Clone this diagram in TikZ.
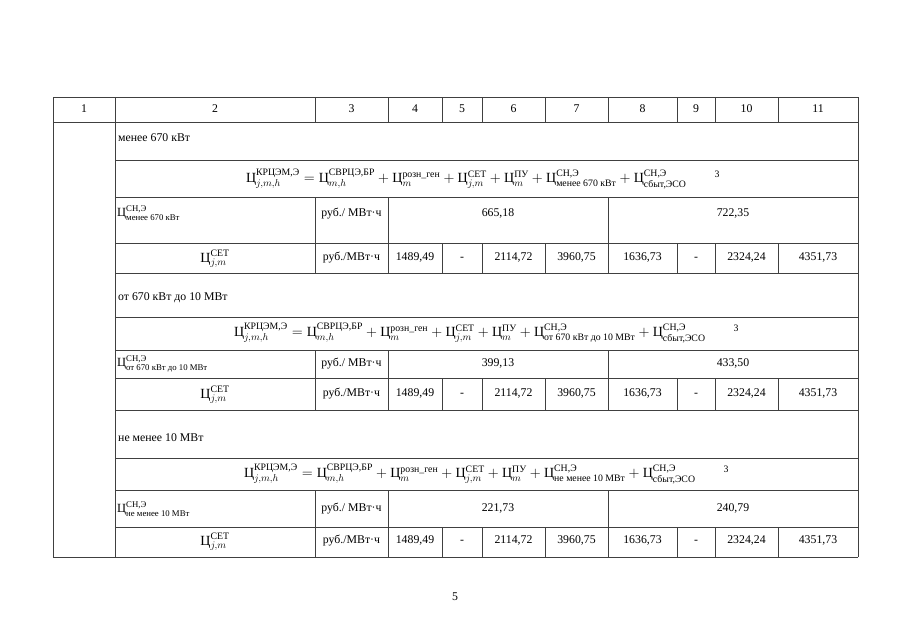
\documentclass[tikz,border=0pt]{standalone}
\usepackage{amsmath}
\usepackage{fontspec}
\setmainfont{Liberation Serif}
\newcommand{\Tc}{\text{Ц}}
\newcommand{\Tx}[1]{\text{#1}}
\tikzset{
  grid/.style={draw=black!75, line width=0.7pt},
  txt/.style={inner sep=0pt, text height=8pt, text depth=2.5pt, font=\fontsize{11.8}{14}\selectfont},
  frm/.style={inner sep=0pt, font=\fontsize{14}{16}\selectfont},
  cellf/.style={inner sep=0pt, font=\fontsize{12.5}{14}\selectfont, anchor=west},
}
\begin{document}
\begin{tikzpicture}[x=1pt,y=-1pt]
\useasboundingbox[fill=white] (0,0) rectangle (905,640);
% ---- grid ----
\draw[grid] (53,97) -- (858,97);
\draw[grid] (53,122) -- (858,122);
\draw[grid] (53,557) -- (858,557);
\draw[grid] (53,97) -- (53,557);
\draw[grid] (115,97) -- (115,557);
\draw[grid] (858,97) -- (858,557);
\foreach \x in {315,388,442,482,545,608,677,715,778}
  \draw[grid] (\x,97) -- (\x,122);
\foreach \y in {160,197,243,273,317,350,378,410,458,490,527}
  \draw[grid] (115,\y) -- (858,\y);
\foreach \a/\b in {197/243,350/378,490/527}{
  \draw[grid] (315,\a) -- (315,\b);
  \draw[grid] (388,\a) -- (388,\b);
  \draw[grid] (608,\a) -- (608,\b);
}
\foreach \a/\b in {243/273,378/410,527/557}
  \foreach \x in {315,388,442,482,545,608,677,715,778}
    \draw[grid] (\x,\a) -- (\x,\b);
% ---- header ----
\node[txt] (h1) at (84,110) {1};
\node[txt] (h2) at (215,110) {2};
\node[txt] (h3) at (351.5,110) {3};
\node[txt] (h4) at (415,110) {4};
\node[txt] (h5) at (462,110) {5};
\node[txt] (h6) at (513.5,110) {6};
\node[txt] (h7) at (576.5,110) {7};
\node[txt] (h8) at (642.5,110) {8};
\node[txt] (h9) at (696,110) {9};
\node[txt] (h10) at (746.5,110) {10};
\node[txt] (h11) at (818,110) {11};
% ---- block 1 ----
\node[txt, anchor=base west] (l1) at (118,141) {менее 670 кВт};
\node[frm] (f1) at (483,179) {$\Tc^{\Tx{КРЦЭМ,Э}}_{j,m,h} = \Tc^{\Tx{СВРЦЭ,БР}}_{m,h} + \Tc^{\Tx{розн\_ген}}_{m} + \Tc^{\Tx{СЕТ}}_{j,m} + \Tc^{\Tx{ПУ}}_{m} + \Tc^{\Tx{СН,Э}}_{\Tx{менее 670 кВт}} + \Tc^{\Tx{СН,Э}}_{\Tx{сбыт,ЭСО}}\qquad{}^{\Tx{3}}$};
\node[cellf] (c1) at (117,213) {$\Tc^{\Tx{СН,Э}}_{\Tx{менее 670 кВт}}$};
\node[txt] (u1) at (351.5,214) {руб./ МВт·ч};
\node[txt] (va1) at (498,214) {665,18};
\node[txt] (vb1) at (733,214) {722,35};
\node[frm] (s1) at (215,259) {$\Tc^{\Tx{СЕТ}}_{j,m}$};
\node[txt] (w1) at (351.5,258) {руб./МВт·ч};
\node[txt] (n1a) at (415,258) {1489,49};
\node[txt] (n1b) at (462,258) {-};
\node[txt] (n1c) at (513.5,258) {2114,72};
\node[txt] (n1d) at (576.5,258) {3960,75};
\node[txt] (n1e) at (642.5,258) {1636,73};
\node[txt] (n1f) at (696,258) {-};
\node[txt] (n1g) at (746.5,258) {2324,24};
\node[txt] (n1h) at (818,258) {4351,73};
% ---- block 2 ----
\node[txt, anchor=base west] (l2) at (118,300) {от 670 кВт до 10 МВт};
\node[frm] (f2) at (486.5,333) {$\Tc^{\Tx{КРЦЭМ,Э}}_{j,m,h} = \Tc^{\Tx{СВРЦЭ,БР}}_{m,h} + \Tc^{\Tx{розн\_ген}}_{m} + \Tc^{\Tx{СЕТ}}_{j,m} + \Tc^{\Tx{ПУ}}_{m} + \Tc^{\Tx{СН,Э}}_{\Tx{от 670 кВт до 10 МВт}} + \Tc^{\Tx{СН,Э}}_{\Tx{сбыт,ЭСО}}\qquad{}^{\Tx{3}}$};
\node[cellf] (c2) at (117,364) {$\Tc^{\Tx{СН,Э}}_{\Tx{от 670 кВт до 10 МВт}}$};
\node[txt] (u2) at (351.5,364) {руб./ МВт·ч};
\node[txt] (va2) at (498,364) {399,13};
\node[txt] (vb2) at (733,364) {433,50};
\node[frm] (s2) at (215,395) {$\Tc^{\Tx{СЕТ}}_{j,m}$};
\node[txt] (w2) at (351.5,394) {руб./МВт·ч};
\node[txt] (n2a) at (415,394) {1489,49};
\node[txt] (n2b) at (462,394) {-};
\node[txt] (n2c) at (513.5,394) {2114,72};
\node[txt] (n2d) at (576.5,394) {3960,75};
\node[txt] (n2e) at (642.5,394) {1636,73};
\node[txt] (n2f) at (696,394) {-};
\node[txt] (n2g) at (746.5,394) {2324,24};
\node[txt] (n2h) at (818,394) {4351,73};
% ---- block 3 ----
\node[txt, anchor=base west] (l3) at (118,441) {не менее 10 МВт};
\node[frm] (f3) at (486.5,474) {$\Tc^{\Tx{КРЦЭМ,Э}}_{j,m,h} = \Tc^{\Tx{СВРЦЭ,БР}}_{m,h} + \Tc^{\Tx{розн\_ген}}_{m} + \Tc^{\Tx{СЕТ}}_{j,m} + \Tc^{\Tx{ПУ}}_{m} + \Tc^{\Tx{СН,Э}}_{\Tx{не менее 10 МВт}} + \Tc^{\Tx{СН,Э}}_{\Tx{сбыт,ЭСО}}\qquad{}^{\Tx{3}}$};
\node[cellf] (c3) at (117,509) {$\Tc^{\Tx{СН,Э}}_{\Tx{не менее 10 МВт}}$};
\node[txt] (u3) at (351.5,509) {руб./ МВт·ч};
\node[txt] (va3) at (498,509) {221,73};
\node[txt] (vb3) at (733,509) {240,79};
\node[frm] (s3) at (215,542) {$\Tc^{\Tx{СЕТ}}_{j,m}$};
\node[txt] (w3) at (351.5,541) {руб./МВт·ч};
\node[txt] (n3a) at (415,541) {1489,49};
\node[txt] (n3b) at (462,541) {-};
\node[txt] (n3c) at (513.5,541) {2114,72};
\node[txt] (n3d) at (576.5,541) {3960,75};
\node[txt] (n3e) at (642.5,541) {1636,73};
\node[txt] (n3f) at (696,541) {-};
\node[txt] (n3g) at (746.5,541) {2324,24};
\node[txt] (n3h) at (818,541) {4351,73};
% page number
\node[txt] (pg) at (455,598) {5};
\end{tikzpicture}
\end{document}
